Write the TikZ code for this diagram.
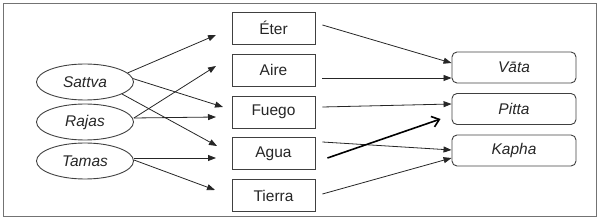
\documentclass[tikz,border=0pt]{standalone}
\usepackage{fontspec}
\setmainfont{Liberation Sans}
\usetikzlibrary{arrows.meta,shapes.geometric}
\begin{document}
\begin{tikzpicture}[x=1pt,y=-1pt,
  every node/.style={font=\fontsize{15.5}{18}\selectfont, text=black!85},
  guna/.style={ellipse, draw=black!75, line width=0.9pt, minimum width=97pt, minimum height=36pt, inner sep=0pt, font=\fontsize{15.5}{18}\selectfont\itshape},
  elem/.style={rectangle, draw=black!75, line width=0.9pt, minimum width=83pt, minimum height=32pt, inner sep=0pt},
  dosha/.style={rectangle, rounded corners=5pt, draw=black!75, line width=0.9pt, minimum width=124pt, minimum height=31pt, inner sep=0pt, font=\fontsize{15.5}{18}\selectfont\itshape},
  arr/.style={draw=black!85, line width=0.8pt, -{Triangle[length=8pt,width=6pt]}},
  bigarr/.style={draw=black, line width=1.6pt, -{Straight Barb[length=7pt,width=11pt]}}]
\useasboundingbox (0,0) rectangle (600,221);
\draw[black!55, line width=1pt] (3,4) rectangle (596,217);
% gunas
\node[guna] (sattva) at (85,82) {Sattva};
\node[guna] (rajas) at (85,122) {Rajas};
\node[guna] (tamas) at (85,161) {Tamas};
% elements
\node[elem] (eter) at (273.5,28) {Éter};
\node[elem] (aire) at (273.5,70) {Aire};
\node[elem] (fuego) at (273.5,112) {Fuego};
\node[elem] (agua) at (273.5,153.5) {Agua};
\node[elem] (tierra) at (273.5,195.5) {Tierra};
% doshas
\node[dosha] (vata) at (514,67.5) {Vāta};
\node[dosha] (pitta) at (514,109) {Pitta};
\node[dosha] (kapha) at (514,150.5) {Kapha};
% arrow tips (free ends)
\coordinate (tEter) at (216,35);
\coordinate (tAire) at (216,66);
\coordinate (tFuego) at (223,107);
\coordinate (tFuego2) at (216,117);
\coordinate (tAgua) at (217,146);
\coordinate (tAgua2) at (216,158);
\coordinate (tTierra) at (215,190);
% guna -> element
\draw[arr] (sattva.12) -- (tEter);
\draw[arr] (sattva.4) -- (tFuego);
\draw[arr] (sattva.-18) -- (tAgua);
\draw[arr] ([yshift=4pt]rajas.east) -- (tAire);
\draw[arr] ([yshift=4pt]rajas.east) -- (tFuego2);
\draw[arr] ([yshift=3pt]tamas.east) -- (tAgua2);
\draw[arr] ([yshift=1pt]tamas.east) -- (tTierra);
% element -> dosha
\draw[arr] ([xshift=7pt,yshift=3pt]eter.east) -- ([yshift=4.5pt]vata.west);
\draw[arr] ([xshift=7pt,yshift=-8pt]aire.east) -- ([yshift=-10.5pt]vata.west);
\draw[arr] ([xshift=7pt,yshift=5pt]fuego.east) -- ([yshift=5pt]pitta.west);
\draw[arr] ([xshift=7pt,yshift=11.5pt]agua.east) -- ([yshift=0.5pt]kapha.west);
\draw[arr] ([xshift=7pt,yshift=1.5pt]tierra.east) -- ([yshift=-7.5pt]kapha.west);
% thick arrow
\draw[bigarr] ([xshift=12pt,yshift=-4.5pt]agua.east) -- ([xshift=-11pt,yshift=-10pt]pitta.west);
\end{tikzpicture}
\end{document}
